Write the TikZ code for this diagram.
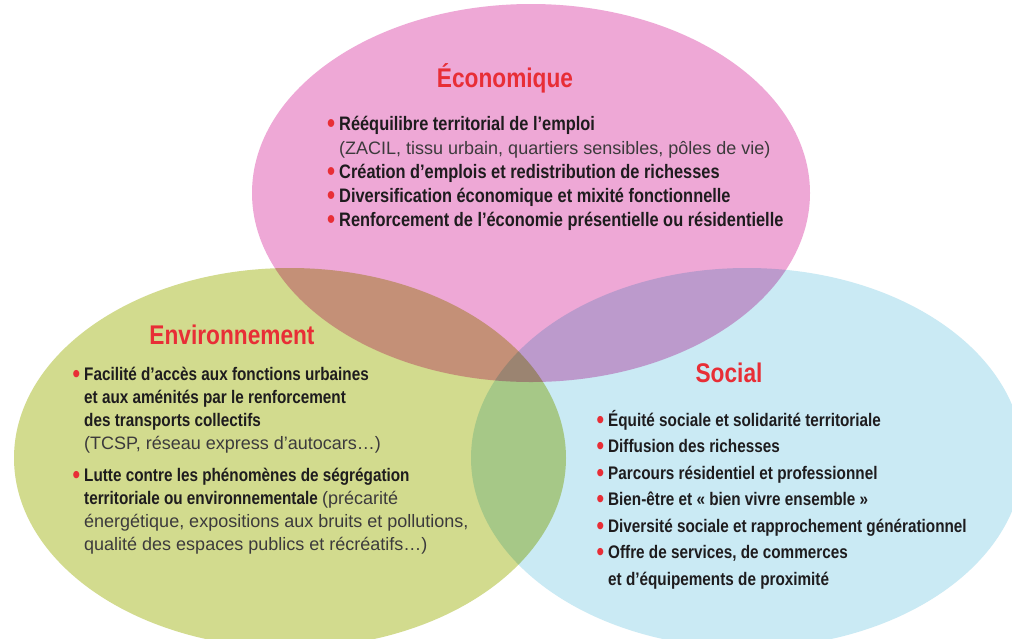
\documentclass[tikz,border=0pt]{standalone}
\usepackage{fontspec}
\setmainfont{Liberation Sans}
\newfontfamily\condfont[FakeStretch=0.84]{Liberation Sans}
\usetikzlibrary{positioning}

\definecolor{ecopink}{RGB}{238,168,214}
\definecolor{envgreen}{RGB}{210,219,142}
\definecolor{socblue}{RGB}{202,234,244}
\definecolor{titlered}{RGB}{232,46,54}
\definecolor{textdark}{RGB}{30,28,30}
\definecolor{textgray}{RGB}{60,58,60}

\newcommand\puce{\llap{\smash{\textcolor{titlered}{\raisebox{-2pt}{\scalebox{1.4}{\textbullet}}}}\hspace{4pt}}}
\newcommand\regtext[1]{{\mdseries\normalfont\fontsize{18}{24}\selectfont\color{textgray}#1}}

\tikzset{
  titlestyle/.style={font=\condfont\bfseries\fontsize{27}{30}\selectfont, text=titlered},
  liststyle/.style 2 args={align=left, anchor=north west, text=textdark,
    font=\condfont\bfseries\fontsize{#1}{#2}\selectfont},
}

\begin{document}
\begin{tikzpicture}[x=1pt,y=-1pt]
\tikzstyle{every node}+=[inner sep=0pt]
\useasboundingbox (0,0) rectangle (1012,638);
\clip (0,0) rectangle (1012,638);
\fill [white] (0,0) rectangle (1012,638);
% the three circles
\begin{scope}[blend mode=multiply]
\fill [ecopink] (531,193) ellipse (279 and 189);
\fill [envgreen] (290,458) ellipse (276 and 190);
\fill [socblue] (747,458) ellipse (276 and 190);
\end{scope}
% titles
\node [titlestyle] (ecotitle) at (505,78) {Économique};
\node [titlestyle] (envtitle) at (232,335) {Environnement};
\node [titlestyle] (soctitle) at (729,373) {Social};
% lists
\node [liststyle={19.5}{24}] (ecolist) at (339,116) {%
\puce Rééquilibre territorial de l’emploi\\
\regtext{(ZACIL, tissu urbain, quartiers sensibles, pôles de vie)}\\
\puce Création d’emplois et redistribution de richesses\\
\puce Diversification économique et mixité fonctionnelle\\
\puce Renforcement de l’économie présentielle ou résidentielle};
\node [liststyle={18.2}{23}] (envlist) at (84,367) {%
\puce Facilité d’accès aux fonctions urbaines\\
et aux aménités par le renforcement\\
des transports collectifs\\
\regtext{(TCSP, réseau express d’autocars…)}\\[9pt]
\puce Lutte contre les phénomènes de ségrégation\\
territoriale ou environnementale \regtext{(précarité}\\
\regtext{énergétique, expositions aux bruits et pollutions,}\\
\regtext{qualité des espaces publics et récréatifs…)}};
\node [liststyle={18.2}{26.5}] (soclist) at (608,410) {%
\puce Équité sociale et solidarité territoriale\\
\puce Diffusion des richesses\\
\puce Parcours résidentiel et professionnel\\
\puce Bien-être et « bien vivre ensemble »\\
\puce Diversité sociale et rapprochement générationnel\\
\puce Offre de services, de commerces\\
et d’équipements de proximité};
\end{tikzpicture}
\end{document}
